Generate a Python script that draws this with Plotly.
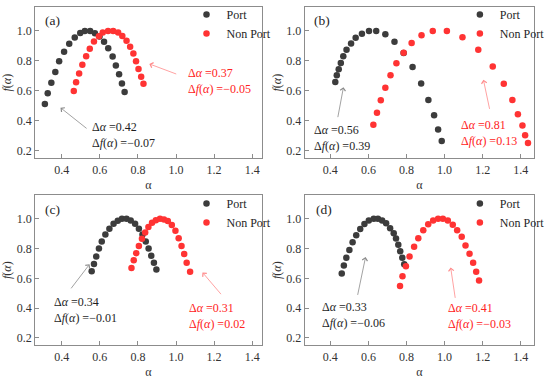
import plotly.graph_objects as go

# ---------------- data ----------------
port_a_x = [0.311, 0.326, 0.345, 0.366, 0.386, 0.412, 0.439, 0.468, 0.497, 0.521, 0.549, 0.574, 0.598, 0.622, 0.644, 0.667, 0.684, 0.701, 0.716, 0.730]
port_a_y = [0.513, 0.584, 0.654, 0.726, 0.798, 0.862, 0.915, 0.956, 0.987, 1.000, 1.000, 0.985, 0.963, 0.928, 0.884, 0.829, 0.770, 0.711, 0.649, 0.592]
non_a_x = [0.463, 0.475, 0.491, 0.508, 0.528, 0.547, 0.569, 0.595, 0.615, 0.643, 0.670, 0.696, 0.718, 0.740, 0.759, 0.776, 0.790, 0.803, 0.817, 0.829]
non_a_y = [0.599, 0.658, 0.717, 0.774, 0.831, 0.882, 0.930, 0.965, 0.989, 1.000, 1.000, 0.989, 0.967, 0.934, 0.895, 0.849, 0.798, 0.746, 0.695, 0.647]

port_b_x = [0.426, 0.434, 0.444, 0.455, 0.468, 0.485, 0.509, 0.533, 0.566, 0.603, 0.641, 0.689, 0.737, 0.785, 0.832, 0.877, 0.915, 0.945, 0.966, 0.985]
port_b_y = [0.660, 0.704, 0.744, 0.787, 0.831, 0.875, 0.917, 0.954, 0.982, 1.000, 1.000, 0.978, 0.928, 0.853, 0.759, 0.649, 0.540, 0.437, 0.342, 0.266]
non_b_x = [0.626, 0.645, 0.665, 0.689, 0.716, 0.747, 0.785, 0.827, 0.879, 0.938, 1.012, 1.094, 1.177, 1.253, 1.311, 1.356, 1.385, 1.409, 1.423, 1.438]
non_b_y = [0.375, 0.454, 0.538, 0.621, 0.704, 0.785, 0.855, 0.919, 0.972, 1.000, 1.000, 0.958, 0.875, 0.763, 0.647, 0.540, 0.445, 0.369, 0.305, 0.253]

port_c_x = [0.557, 0.569, 0.581, 0.595, 0.610, 0.629, 0.650, 0.672, 0.694, 0.716, 0.740, 0.762, 0.785, 0.805, 0.824, 0.841, 0.856, 0.870, 0.884, 0.897]
port_c_y = [0.648, 0.697, 0.747, 0.800, 0.848, 0.895, 0.934, 0.967, 0.987, 1.000, 1.000, 0.989, 0.967, 0.934, 0.895, 0.848, 0.800, 0.752, 0.705, 0.659]
non_c_x = [0.766, 0.778, 0.791, 0.805, 0.821, 0.838, 0.855, 0.874, 0.894, 0.916, 0.937, 0.957, 0.978, 0.997, 1.014, 1.029, 1.043, 1.056, 1.074]
non_c_y = [0.670, 0.721, 0.769, 0.818, 0.866, 0.908, 0.945, 0.974, 0.991, 1.000, 0.996, 0.985, 0.958, 0.919, 0.870, 0.818, 0.763, 0.705, 0.644]

port_d_x = [0.460, 0.471, 0.484, 0.500, 0.517, 0.536, 0.557, 0.579, 0.602, 0.628, 0.650, 0.672, 0.693, 0.714, 0.733, 0.745, 0.757, 0.767, 0.778, 0.788]
port_d_y = [0.633, 0.686, 0.738, 0.791, 0.842, 0.890, 0.932, 0.965, 0.989, 1.000, 1.000, 0.989, 0.971, 0.936, 0.903, 0.868, 0.826, 0.782, 0.738, 0.695]
non_d_x = [0.766, 0.779, 0.797, 0.816, 0.840, 0.862, 0.888, 0.914, 0.940, 0.966, 0.991, 1.017, 1.043, 1.066, 1.090, 1.110, 1.131, 1.150, 1.166, 1.181]
non_d_y = [0.549, 0.615, 0.681, 0.747, 0.813, 0.870, 0.923, 0.963, 0.989, 1.000, 1.000, 0.989, 0.960, 0.923, 0.879, 0.820, 0.765, 0.705, 0.644, 0.585]

panel_labels = ["(a)", "(b)", "(c)", "(d)"]
series_names = ["Port", "Non Port"]
x_ticks = [0.4, 0.6, 0.8, 1.0, 1.2, 1.4]
y_ticks = [0.2, 0.4, 0.6, 0.8, 1.0]

# text labels: (Δα, Δf) for Port and Non Port in each panel
port_delta = [("0.42", "−0.07"), ("0.56", "0.39"), ("0.34", "−0.01"), ("0.33", "−0.06")]
non_delta = [("0.37", "−0.05"), ("0.81", "0.13"), ("0.31", "0.02"), ("0.41", "−0.03")]

# ---------------- styling ----------------
FONT = "Liberation Serif, Times New Roman, DejaVu Serif, serif"
FS = 12
BLACK = "#3c3c3c"
RED = "#ff3333"
BLACK_TXT = "#1e1e1e"
RED_TXT = "#ff2222"
BLACK_ARROW = "#8a8a8a"
RED_ARROW = "#ff8a8a"
FRAME = "#8c8c8c"

panels = [
    (port_a_x, port_a_y, non_a_x, non_a_y),
    (port_b_x, port_b_y, non_b_x, non_b_y),
    (port_c_x, port_c_y, non_c_x, non_c_y),
    (port_d_x, port_d_y, non_d_x, non_d_y),
]

W, H = 550, 383
xdom = [[36 / W, 268 / W], [312 / W, 547 / W], [36 / W, 268 / W], [312 / W, 547 / W]]
ydom = [[1 - 156 / H, 1 - 3 / H], [1 - 156 / H, 1 - 3 / H], [1 - 345 / H, 1 - 193 / H], [1 - 345 / H, 1 - 193 / H]]
xrng = [[0.26, 1.45], [0.265, 1.47], [0.26, 1.45], [0.265, 1.47]]
yrng = [0.15, 1.16]

legend_pos = [(191 / W, 1 + 4 / H), (471 / W, 1 + 4 / H), (191 / W, 1 - 187 / H), (471 / W, 1 - 187 / H)]
legend_keys = ["legend", "legend2", "legend3", "legend4"]

fig = go.Figure()
layout = dict(
    width=W, height=H,
    margin=dict(l=0, r=0, t=0, b=0),
    paper_bgcolor="white", plot_bgcolor="white",
    font=dict(family=FONT, size=FS, color=BLACK_TXT),
    showlegend=True,
)

for i, (px, py, nx, ny) in enumerate(panels):
    sfx = "" if i == 0 else str(i + 1)
    xa, ya = "x" + sfx, "y" + sfx
    leg = legend_keys[i]
    fig.add_trace(go.Scatter(x=px, y=py, mode="markers", name=series_names[0],
                             marker=dict(color=BLACK, size=6.5), xaxis=xa, yaxis=ya, legend=leg))
    fig.add_trace(go.Scatter(x=nx, y=ny, mode="markers", name=series_names[1],
                             marker=dict(color=RED, size=6.5), xaxis=xa, yaxis=ya, legend=leg))
    common = dict(showline=True, mirror=True, linecolor=FRAME, linewidth=1,
                  ticks="inside", ticklen=4, tickcolor=FRAME, tickwidth=1,
                  showgrid=False, zeroline=False,
                  tickfont=dict(family=FONT, size=FS, color="#333333"))
    layout["xaxis" + sfx] = dict(common, domain=xdom[i], range=xrng[i], anchor=ya,
                                 tickvals=x_ticks, tickformat=".1f",
                                 title=dict(text="α", font=dict(family=FONT, size=FS, color="#333333"), standoff=4))
    layout["yaxis" + sfx] = dict(common, domain=ydom[i], range=yrng, anchor=xa,
                                 tickvals=y_ticks, tickformat=".1f",
                                 title=dict(text="<i>f</i>(<i>α</i>)", font=dict(family=FONT, size=FS, color="#333333"), standoff=2))
    lx, ly = legend_pos[i]
    layout[leg] = dict(x=lx, y=ly, xanchor="left", yanchor="top", bgcolor="rgba(0,0,0,0)",
                       font=dict(family=FONT, size=FS, color=BLACK_TXT), itemwidth=30,
                       tracegroupgap=0)

fig.update_layout(**layout)

# ---------------- annotations ----------------
# positions in data coordinates of each panel
port_text_pos = [(0.547, 0.306), (0.306, 0.283), (0.349, 0.388), (0.346, 0.352)]
non_text_pos = [(1.051, 0.669), (1.075, 0.322), (1.058, 0.348), (1.010, 0.349)]
port_arrow = [((0.393, 0.488), (0.538, 0.342)), ((0.469, 0.625), (0.438, 0.415)),
              ((0.546, 0.695), (0.443, 0.523)), ((0.585, 0.743), (0.542, 0.479))]
non_arrow = [((0.860, 0.780), (1.009, 0.709)), ((1.204, 0.674), (1.238, 0.470)),
             ((1.139, 0.640), (1.243, 0.484)), ((1.032, 0.673), (1.057, 0.459))]
label_pos = [(44 / W, 1 - 17 / H), (320 / W, 1 - 17 / H), (44 / W, 1 - 208 / H), (322 / W, 1 - 208 / H)]

anns = []
for i in range(4):
    sfx = "" if i == 0 else str(i + 1)
    xr, yr = "x" + sfx, "y" + sfx
    for (txt_pos, delta, color, arrow, acolor) in [
        (port_text_pos[i], port_delta[i], BLACK_TXT, port_arrow[i], BLACK_ARROW),
        (non_text_pos[i], non_delta[i], RED_TXT, non_arrow[i], RED_ARROW),
    ]:
        anns.append(dict(
            x=txt_pos[0], y=txt_pos[1], xref=xr, yref=yr, xanchor="left", yanchor="middle",
            text="Δ<i>α</i> =" + delta[0] + "<br>Δ<i>f</i>(<i>α</i>) =" + delta[1],
            align="left", showarrow=False, font=dict(family=FONT, size=FS, color=color)))
        (hx, hy), (tx, ty) = arrow
        anns.append(dict(
            x=hx, y=hy, ax=tx, ay=ty, xref=xr, yref=yr, axref=xr, ayref=yr,
            text="", showarrow=True, arrowhead=4, arrowsize=1.3, arrowwidth=0.8,
            arrowcolor=acolor, standoff=0, startstandoff=0))
    anns.append(dict(x=label_pos[i][0], y=label_pos[i][1], xref="paper", yref="paper",
                     xanchor="left", yanchor="middle", text=panel_labels[i], showarrow=False,
                     font=dict(family=FONT, size=13.5, color=BLACK_TXT)))

fig.update_layout(annotations=anns)
fig.write_html("out.html", config={"displayModeBar": False},
               post_script="document.body.style.margin='0px';")
